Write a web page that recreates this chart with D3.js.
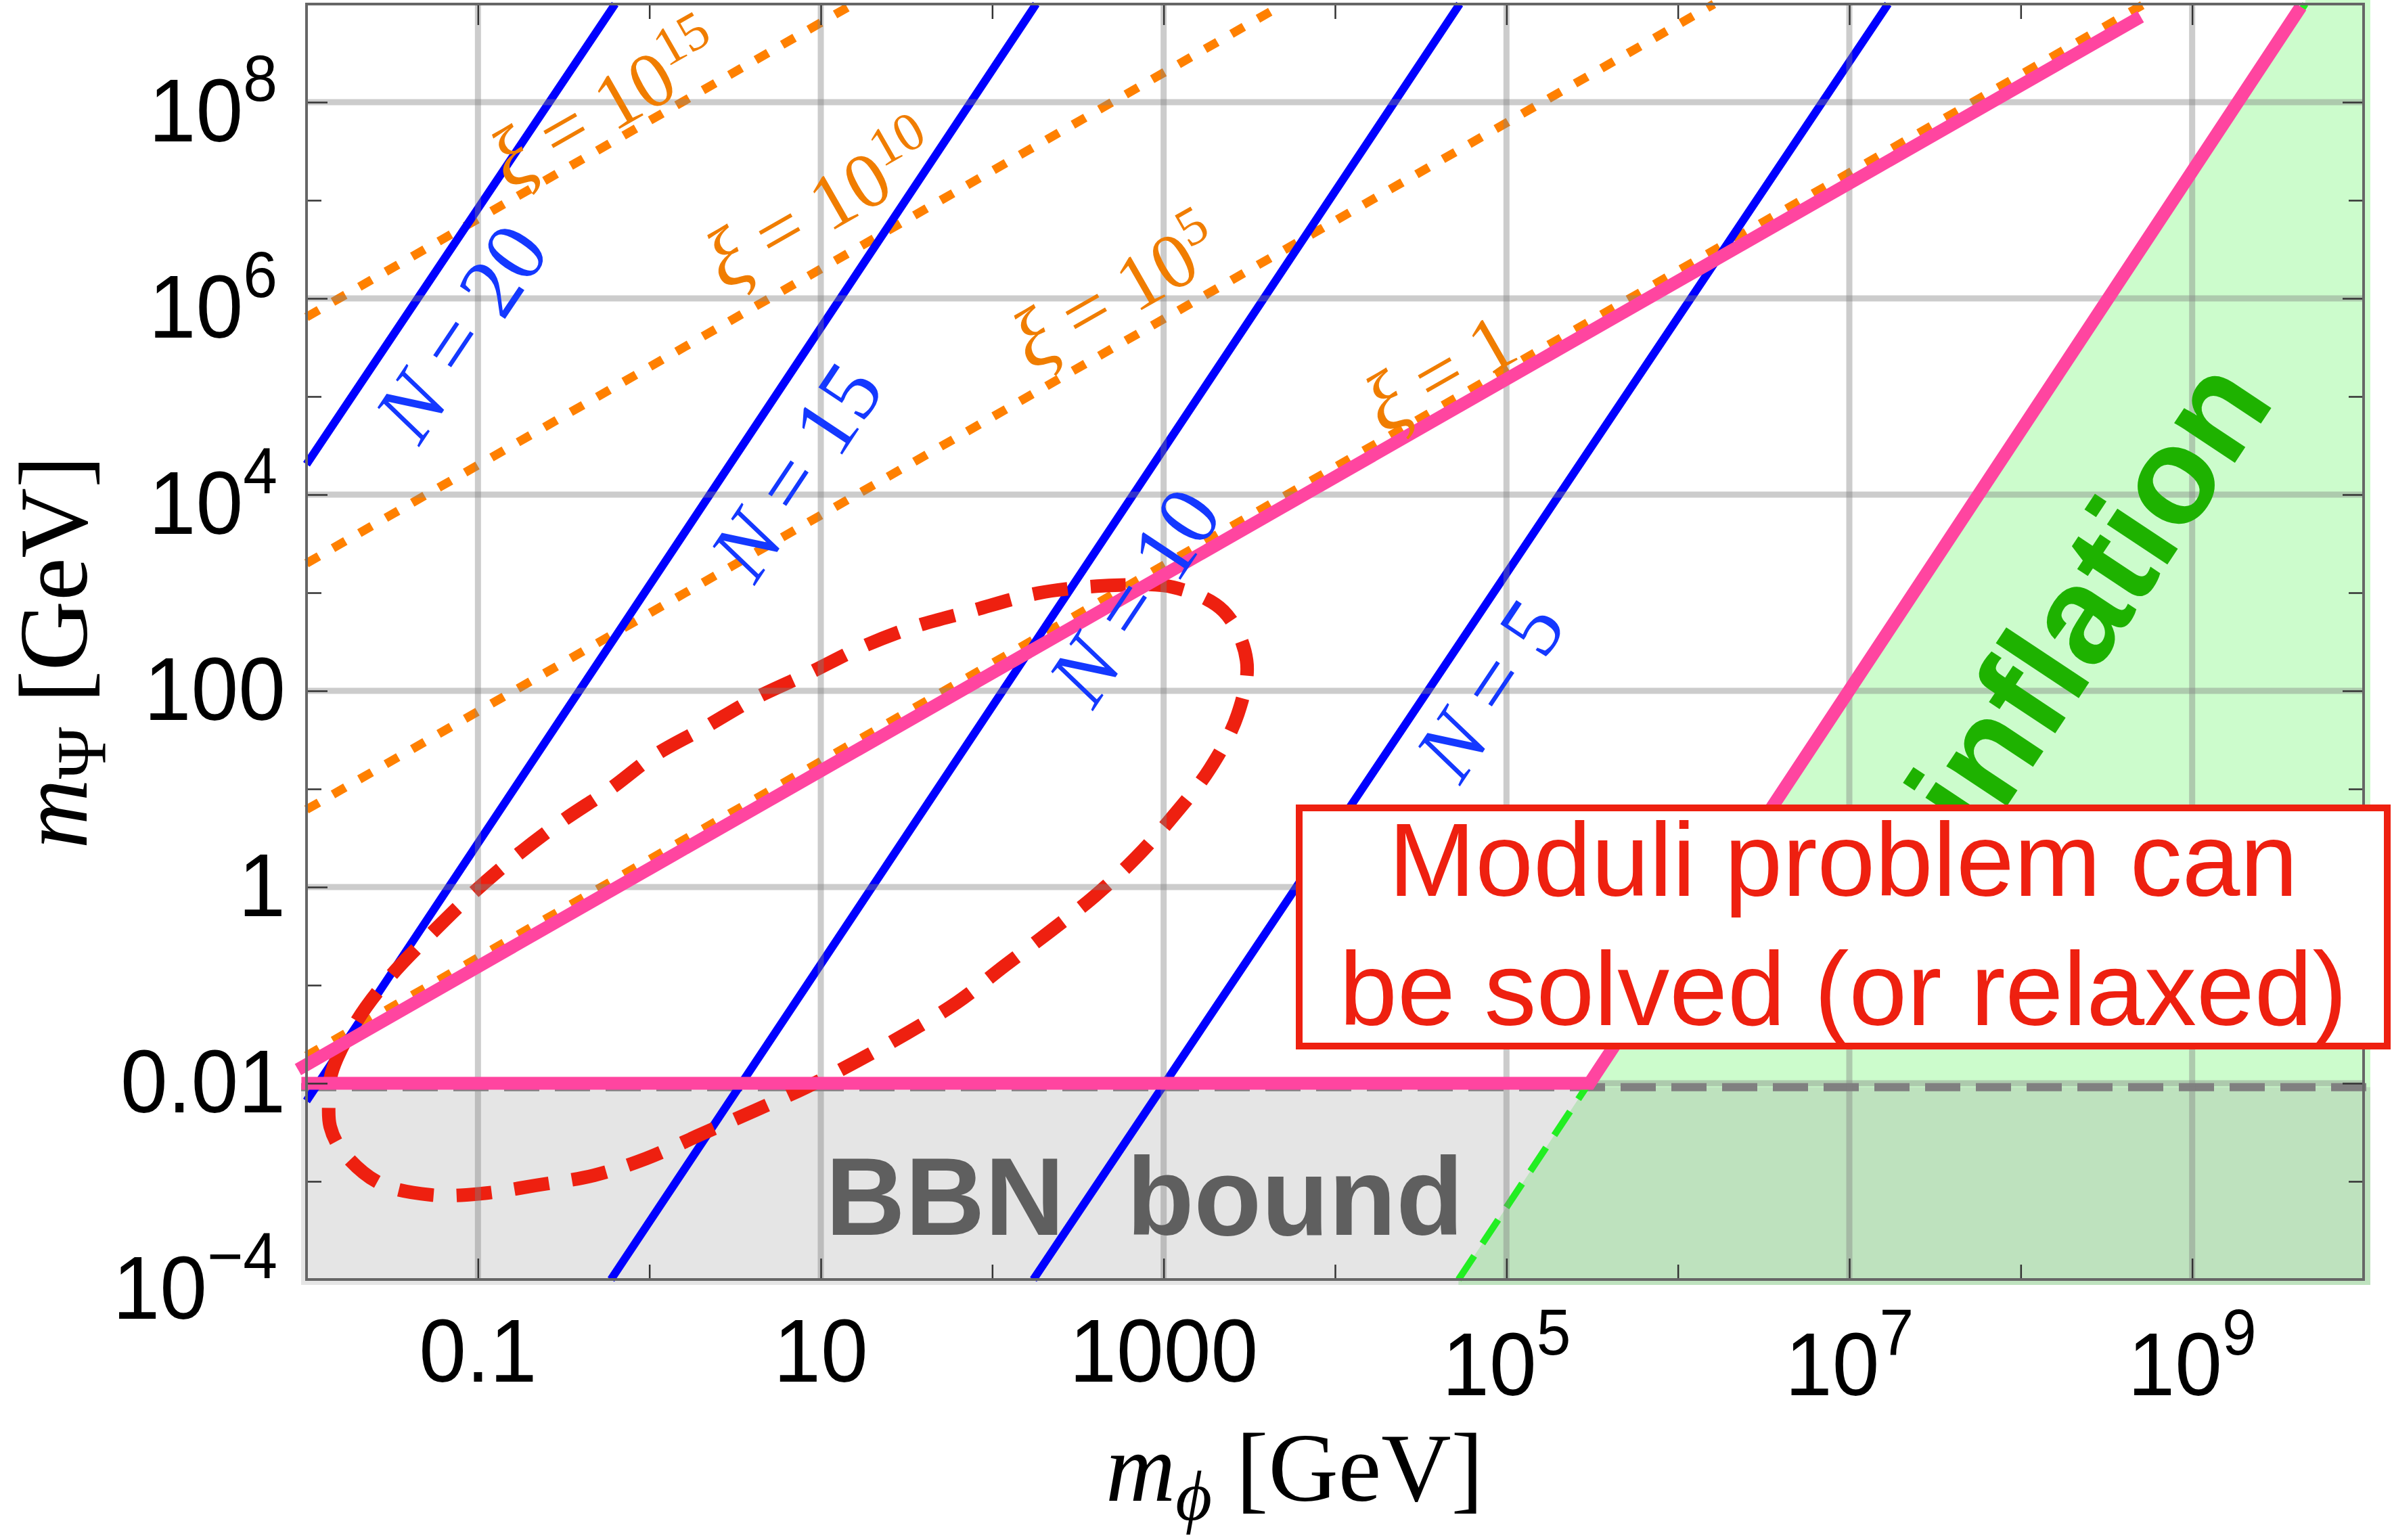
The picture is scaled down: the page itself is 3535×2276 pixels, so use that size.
<!DOCTYPE html>
<html>
<head>
<meta charset="utf-8">
<script src="https://cdn.jsdelivr.net/npm/d3@7/dist/d3.min.js"></script>
<style>
  body { margin: 0; background: #fff; }
  svg { display: block; }
</style>
</head>
<body>
<div id="chart"></div>
<script>
var width = 3535,
    height = 2276;

// all values are log10 of the mass in GeV
var xLabelExps = [-1, 1, 3, 5, 7, 9],
    xLabels = ["0.1", "10", "1000", "10^5", "10^7", "10^9"],
    xMinorExps = [0, 2, 4, 6, 8];

var yLabelExps = [-4, -2, 0, 2, 4, 6, 8],
    yLabels = ["10^-4", "0.01", "1", "100", "10^4", "10^6", "10^8"],
    yMinorExps = [-3, -1, 1, 3, 5, 7];

// N = const lines (two end points each)
var nNames = ["20", "15", "10", "5"];
var nPhi = [[-2, -0.2], [-2, 2.256], [-0.224, 4.727], [2.24, 7.226]];
var nPsi = [[4.31, 9], [-2.18, 9], [-4, 9], [-4, 9]];
var nLabelPhi = [-1.104, 0.850, 2.824, 4.897];
var nLabelPsi = [5.662, 4.248, 2.972, 2.021];

// xi = const lines
var xiNames = ["1", "10^5", "10^10", "10^15"];
var xiPhi = [[-2, 8.72], [-2, 6.21], [-2, 3.70], [-2, 1.19]];
var xiPsi = [[-1.72, 9], [0.79, 9], [3.30, 9], [5.81, 9]];
var xiLabelPhi = [4.601, 2.714, 0.993, -0.263];
var xiLabelPsi = [5.262, 6.076, 6.966, 7.990];

// pink boundary of the allowed region
var pinkUpperPhi = [-2.05, 8.70],
    pinkUpperPsi = [-1.86, 8.87];
var pinkLowerPhi = [-2.03, 5.485, 9.634],
    pinkLowerPsi = [-2, -2, 8.972];

// inflation edge and BBN bound
var inflPhi = [4.72, 9.66],
    inflPsi = [-4, 9];
var bbnPsi = -2.04;

// red dashed contour
var loopPhi = [-1.870, -1.854, -1.704, -1.507, -1.281, -1.025, -0.768, -0.512, -0.223, 0.033,
    0.317, 0.617, 0.929, 1.241, 1.549, 1.877, 2.204, 2.386, 2.714, 3.057,
    3.349, 3.484, 3.432, 3.270, 3.073, 2.844, 2.599, 2.335, 2.074, 1.798,
    1.502, 1.206, 0.914, 0.617, 0.306, -0.018, -0.322, -0.662, -0.978, -1.274,
    -1.578, -1.795, -1.862];
var loopPsi = [-2.200, -1.897, -1.359, -0.903, -0.490, -0.055, 0.331, 0.669, 1.007, 1.345,
    1.621, 1.924, 2.179, 2.448, 2.655, 2.814, 2.972, 3.028, 3.076, 3.055,
    2.814, 2.310, 1.759, 1.207, 0.759, 0.310, -0.090, -0.455, -0.800, -1.172,
    -1.490, -1.779, -2.041, -2.276, -2.517, -2.766, -2.938, -3.041, -3.124, -3.138,
    -3.014, -2.683, -2.441];

var x = d3.scaleLog().domain([1e-2, 1e10]).range([453, 3493]),
    y = d3.scaleLog().domain([1e-4, 1e9]).range([1891, 6]);

function px(e) { return x(Math.pow(10, e)); }
function py(e) { return y(Math.pow(10, e)); }

function pts(phis, psis) {
    return phis.map(function (p, i) { return [px(p), py(psis[i])]; });
}

function angleOf(phis, psis) {
    var n = phis.length - 1;
    return Math.atan2(py(psis[n]) - py(psis[0]), px(phis[n]) - px(phis[0])) * 180 / Math.PI;
}

var line = d3.line();

var svg = d3.select("#chart")
    .append("svg")
    .attr("width", width)
    .attr("height", height)
    .style("font-family", "'Liberation Sans', Arial, Helvetica, sans-serif");

svg.append("rect").attr("width", width).attr("height", height).attr("fill", "#fff");

svg.append("defs").append("clipPath")
    .attr("id", "plotClip")
    .append("rect")
    .attr("x", 445).attr("y", 0)
    .attr("width", 3503 - 445).attr("height", 1899);

var plot = svg.append("g").attr("clip-path", "url(#plotClip)");

// inflation region
var greenPoly = pts(inflPhi, inflPsi).concat([[px(10.4), py(9.3)], [px(10.4), py(-4.4)], [px(inflPhi[0]), py(-4.4)]]);
greenPoly.splice(2, 0, [px(inflPhi[1]), py(9.3)]);
plot.append("path")
    .attr("d", line(greenPoly) + "Z")
    .attr("fill", "rgb(204,252,204)");

// BBN region
plot.append("rect")
    .attr("x", 440)
    .attr("y", py(bbnPsi))
    .attr("width", 3100)
    .attr("height", 1899 - py(bbnPsi))
    .attr("fill", "#909090")
    .attr("fill-opacity", 0.235);

// grid
var grid = svg.append("g")
    .attr("stroke", "#808080")
    .attr("stroke-opacity", 0.4)
    .attr("stroke-width", 9);

grid.selectAll(".gx")
    .data(xLabelExps)
    .enter().append("line")
    .attr("x1", px).attr("x2", px)
    .attr("y1", 6).attr("y2", 1891);

grid.selectAll(".gy")
    .data(yLabelExps.slice(1))
    .enter().append("line")
    .attr("x1", 453).attr("x2", 3493)
    .attr("y1", py).attr("y2", py);

// BBN dashed edge
plot.append("line")
    .attr("x1", 445).attr("x2", 3503)
    .attr("y1", py(bbnPsi)).attr("y2", py(bbnPsi))
    .attr("stroke", "#808080")
    .attr("stroke-width", 12)
    .attr("stroke-dasharray", "52,23");

// inflation dashed edge
plot.append("path")
    .attr("d", line(pts(inflPhi, inflPsi)))
    .attr("fill", "none")
    .attr("stroke", "#22ee22")
    .attr("stroke-width", 10)
    .attr("stroke-dasharray", "42,22");

// xi lines
plot.selectAll(".xi")
    .data(xiNames)
    .enter().append("path")
    .attr("d", function (d, i) { return line(pts(xiPhi[i], xiPsi[i])); })
    .attr("fill", "none")
    .attr("stroke", "#ff8000")
    .attr("stroke-width", 13)
    .attr("stroke-dasharray", "21,24");

// N lines
plot.selectAll(".nline")
    .data(nNames)
    .enter().append("path")
    .attr("d", function (d, i) { return line(pts(nPhi[i], nPsi[i])); })
    .attr("fill", "none")
    .attr("stroke", "#0000ff")
    .attr("stroke-width", 12);

// pink boundary
[[pinkUpperPhi, pinkUpperPsi], [pinkLowerPhi, pinkLowerPsi]].forEach(function (p) {
    svg.append("path")
        .attr("d", line(pts(p[0], p[1])))
        .attr("fill", "none")
        .attr("stroke", "#ff45a0")
        .attr("stroke-width", 19);
});

// red contour
plot.append("path")
    .attr("d", d3.line().curve(d3.curveCatmullRomClosed)(pts(loopPhi, loopPsi)))
    .attr("fill", "none")
    .attr("stroke", "#ee2010")
    .attr("stroke-width", 20)
    .attr("stroke-dasharray", "52,34");

// line labels
var serif = "'Liberation Serif', 'Times New Roman', serif";

nNames.forEach(function (name, i) {
    var t = svg.append("text")
        .attr("transform", "translate(" + px(nLabelPhi[i]) + "," + py(nLabelPsi[i]) + ") rotate(" + angleOf(nPhi[i], nPsi[i]) + ")")
        .attr("text-anchor", "middle")
        .attr("dy", "0.35em")
        .attr("font-family", serif)
        .attr("font-size", 128)
        .attr("fill", "#1438ff");
    t.append("tspan").attr("font-style", "italic").text("N");
    t.append("tspan").text(" = " + name);
});

xiNames.forEach(function (name, i) {
    var parts = name.split("^");
    var t = svg.append("text")
        .attr("transform", "translate(" + px(xiLabelPhi[i]) + "," + py(xiLabelPsi[i]) + ") rotate(" + angleOf(xiPhi[i], xiPsi[i]) + ")")
        .attr("text-anchor", "middle")
        .attr("dy", "0.38em")
        .attr("font-family", serif)
        .attr("font-size", 116)
        .attr("fill", "#f07d00");
    t.append("tspan").attr("font-style", "italic").attr("font-size", 124).text("\u03be");
    t.append("tspan").text(" = " + parts[0]);
    if (parts.length > 1) {
        t.append("tspan").attr("font-size", 80).attr("dy", -44).text(parts[1]);
    }
});

// region labels
svg.append("text")
    .attr("transform", "translate(2927,1250) rotate(" + angleOf(inflPhi, inflPsi) + ")")
    .attr("font-size", 203)
    .attr("font-weight", "bold")
    .attr("fill", "#1eb200")
    .text("inflation");

svg.append("text")
    .attr("x", 1220).attr("y", 1825)
    .attr("font-size", 163)
    .attr("font-weight", "bold")
    .attr("fill", "#5f5f5f")
    .text("BBN");

svg.append("text")
    .attr("x", 1665).attr("y", 1825)
    .attr("font-size", 163)
    .attr("font-weight", "bold")
    .attr("fill", "#5f5f5f")
    .text("bound");

// ticks on all four sides
function ticks(axis, tr) {
    var g = svg.append("g").attr("transform", tr).call(axis);
    g.select(".domain").remove();
    g.selectAll("line").attr("stroke", "#333").attr("stroke-width", 2.5);
}
function tens(a) { return a.map(function (e) { return Math.pow(10, e); }); }

ticks(d3.axisBottom(x).tickValues(tens(xLabelExps)).tickSize(-31).tickFormat(""), "translate(0,1891)");
ticks(d3.axisBottom(x).tickValues(tens(xMinorExps)).tickSize(-22).tickFormat(""), "translate(0,1891)");
ticks(d3.axisTop(x).tickValues(tens(xLabelExps)).tickSize(-31).tickFormat(""), "translate(0,6)");
ticks(d3.axisTop(x).tickValues(tens(xMinorExps)).tickSize(-22).tickFormat(""), "translate(0,6)");
ticks(d3.axisLeft(y).tickValues(tens(yLabelExps.slice(1))).tickSize(-31).tickFormat(""), "translate(453,0)");
ticks(d3.axisLeft(y).tickValues(tens(yMinorExps)).tickSize(-22).tickFormat(""), "translate(453,0)");
ticks(d3.axisRight(y).tickValues(tens(yLabelExps.slice(1))).tickSize(-31).tickFormat(""), "translate(3493,0)");
ticks(d3.axisRight(y).tickValues(tens(yMinorExps)).tickSize(-22).tickFormat(""), "translate(3493,0)");

svg.append("rect")
    .attr("x", 453).attr("y", 6)
    .attr("width", 3493 - 453).attr("height", 1891 - 6)
    .attr("fill", "none")
    .attr("stroke", "#666")
    .attr("stroke-width", 4);

// tick labels
function tickText(g, label) {
    var parts = label.split("^");
    var t = g.append("text").attr("font-size", 132).attr("fill", "#000");
    t.append("tspan").text(parts[0]);
    if (parts.length > 1) {
        t.append("tspan").attr("font-size", 96).attr("dy", -60).text(parts[1].replace("-", "\u2212"));
    }
    return t;
}

xLabels.forEach(function (lab, i) {
    var pow = lab.indexOf("^") > 0;
    var g = svg.append("g")
        .attr("transform", "translate(" + px(xLabelExps[i]) + "," + (1891 + (pow ? 171 : 151)) + ") scale(0.95,1)");
    tickText(g, lab).attr("text-anchor", "middle");
});

yLabels.forEach(function (lab, i) {
    var pow = lab.indexOf("^") > 0;
    var g = svg.append("g")
        .attr("transform", "translate(" + (pow ? 410 : 422) + "," + (py(yLabelExps[i]) + (pow ? 58 : 43)) + ") scale(0.95,1)");
    tickText(g, lab).attr("text-anchor", "end");
});

// axis titles
function title(t, sub, subItalic) {
    t.attr("font-family", serif).attr("font-size", 143).attr("text-anchor", "middle");
    t.append("tspan").attr("font-style", "italic").text("m");
    t.append("tspan").attr("font-size", 104).attr("font-style", subItalic ? "italic" : "normal").attr("dy", 28).text(sub);
    t.append("tspan").attr("dy", -28).text(" [GeV]");
}
title(svg.append("text").attr("x", 1913).attr("y", 2218), "\u03d5", true);
title(svg.append("text").attr("transform", "translate(128,964) rotate(-90)"), "\u03a8", false);

// annotation box
svg.append("rect")
    .attr("x", 1920).attr("y", 1194)
    .attr("width", 1608).attr("height", 352)
    .attr("fill", "#fff")
    .attr("stroke", "#ee2010")
    .attr("stroke-width", 10);

svg.selectAll(".note")
    .data(["Moduli problem can", "be solved (or relaxed)"])
    .enter().append("text")
    .attr("x", 2724)
    .attr("y", function (d, i) { return 1324 + i * 191; })
    .attr("text-anchor", "middle")
    .attr("font-size", 154)
    .attr("fill", "#ee2010")
    .text(function (d) { return d; });
</script>
</body>
</html>
